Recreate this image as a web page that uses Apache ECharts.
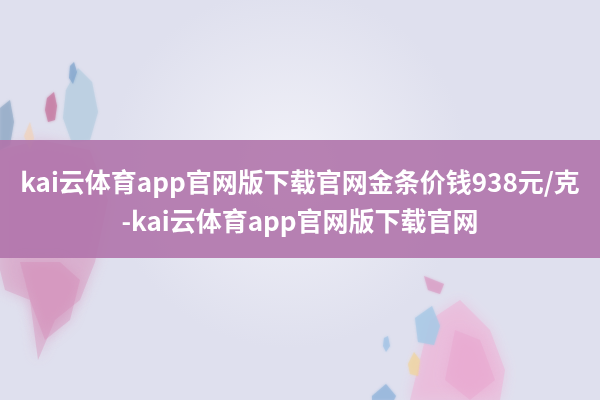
<!DOCTYPE html>
<html>
<head>
<meta charset="utf-8">
<script src="https://cdn.jsdelivr.net/npm/echarts@6/dist/echarts.min.js"></script>
<style>
  html, body { margin: 0; padding: 0; background: #dfe0ee; }
  #container { width: 600px; height: 400px; }
</style>
</head>
<body>
<div id="container"></div>
<script>
// banner text, one entry per line
const titleLines = ['kai云体育app官网版下载官网金条价钱938元/克', '-kai云体育app官网版下载官网'];

// soft decorative shapes: [points, colour, opacity]
const crystals = [
    [[[0, 108], [10, 100], [14, 122], [10, 145], [0, 150]], '#8fa9c4', 0.6],
    [[[47, 98], [54, 92], [57, 106], [55, 120], [48, 122], [45, 110]], '#c4789f', 0.65],
    [[[66, 90], [78, 68], [92, 82], [98, 112], [90, 140], [72, 143], [63, 118]], '#b8cee0', 0.65],
    [[[70, 66], [74, 62], [77, 72], [73, 84], [69, 78]], '#7fa4cc', 0.6],
    [[[24, 136], [30, 122], [34, 138], [30, 150]], '#f1d2b8', 0.5],
    [[[415, 318], [432, 306], [440, 326], [434, 345], [418, 342]], '#a9c9e6', 0.7],
    [[[408, 364], [414, 352], [420, 360], [418, 376], [410, 374]], '#f0d49a', 0.55],
    [[[372, 396], [386, 384], [396, 396], [394, 400], [372, 400]], '#95b6dc', 0.7],
    [[[424, 276], [444, 284], [440, 294], [428, 290]], '#d99bc3', 0.6],
    [[[384, 338], [388, 336], [390, 346], [386, 352], [383, 346]], '#9ec2e4', 0.6]
];

const splashes = [
    [[[0, 150], [40, 140], [90, 150], [108, 200], [95, 262], [80, 300], [55, 320], [38, 360], [30, 300], [5, 290], [0, 270]], '#d89cc2', 0.45],
    [[[20, 262], [60, 262], [80, 280], [70, 320], [45, 340], [30, 300]], '#d488b4', 0.35],
    [[[430, 320], [460, 300], [490, 330], [505, 370], [500, 400], [410, 400], [420, 360]], '#eeb2d6', 0.5],
    [[[455, 330], [480, 340], [495, 380], [470, 400], [445, 380]], '#e8a2cc', 0.4]
];

function polyGraphics(list, blur) {
    return list.map(function (c) {
        return {
            type: 'polygon',
            shape: { points: c[0] },
            style: { fill: c[1], opacity: c[2], shadowBlur: blur, shadowColor: c[1] }
        };
    });
}

const myChart = echarts.init(document.getElementById('container'), null, {
    renderer: 'canvas'
});

const option = {
    backgroundColor: '#dfe0ee',
    graphic: [].concat(
        [{
            type: 'rect',
            shape: { x: 0, y: 0, width: 600, height: 400 },
            style: {
                fill: {
                    type: 'radial', x: 0.48, y: 0.42, r: 0.45,
                    colorStops: [
                        { offset: 0, color: '#f1f1f8' },
                        { offset: 1, color: '#dfe0ee' }
                    ]
                }
            }
        }],
        polyGraphics(splashes, 14),
        polyGraphics(crystals, 3),
        [{
            type: 'rect',
            shape: { x: 0, y: 140, width: 600, height: 118 },
            style: { fill: 'rgba(176, 116, 171, 0.9)' }
        }, {
            type: 'text',
            x: 300,
            y: 182,
            style: {
                text: titleLines[0],
                fill: '#ffffff',
                font: 'bold 26px "Noto Sans CJK SC", sans-serif',
                align: 'center',
                verticalAlign: 'middle'
            }
        }, {
            type: 'text',
            x: 300,
            y: 221,
            style: {
                text: titleLines[1],
                fill: '#ffffff',
                font: 'bold 26px "Noto Sans CJK SC", sans-serif',
                align: 'center',
                verticalAlign: 'middle'
            }
        }]
    )
};
myChart.setOption(option);
</script>
</body>
</html>
